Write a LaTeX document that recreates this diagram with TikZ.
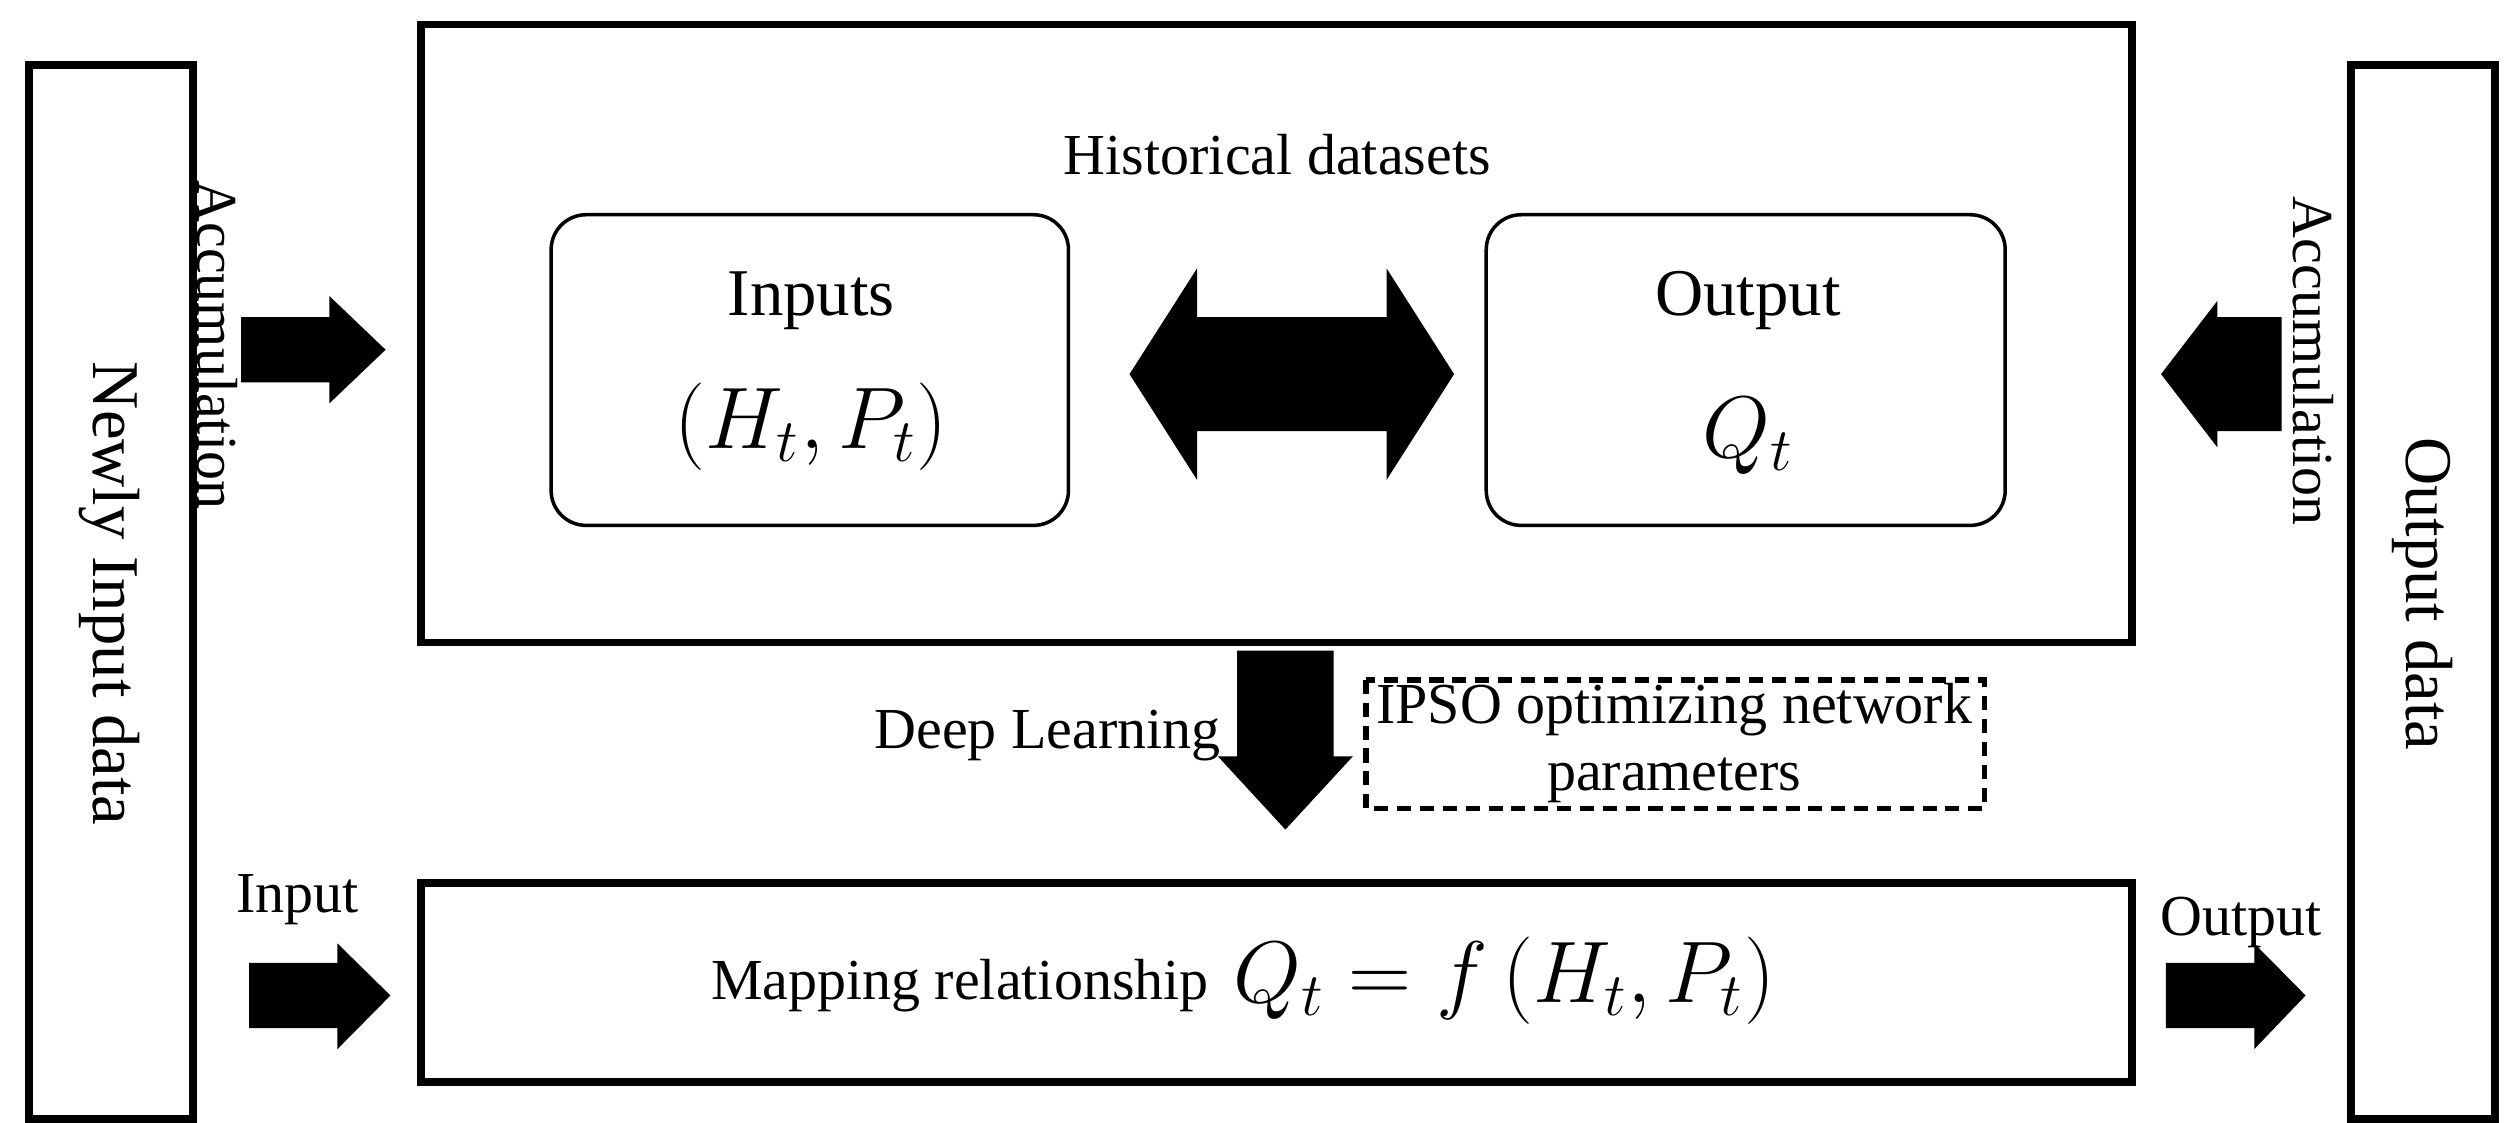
\documentclass[tikz,border=0pt]{standalone}
\usepackage{fontspec}
\setmainfont{Liberation Serif}
\usepackage{amsmath}
\begin{document}
\begin{tikzpicture}[
  box/.style={draw,line width=2.2pt,inner sep=0},
  rbox/.style={draw,line width=1pt,rounded corners=0.35cm},
  lbl/.style={font=\fontsize{16.5}{19}\selectfont},
  big/.style={font=\fontsize{19}{22}\selectfont},
  mth/.style={font=\fontsize{25}{28}\selectfont},
  arr/.style={fill=black}]
\useasboundingbox (0,0) rectangle (25.18,-11.22);
\begin{scope}[x=0.01607cm,y=-0.01626cm]
% outer boxes
\draw[box] (18,40) rectangle (120,688);
\node[big,rotate=-90] (nid) at (68,365) {Newly Input data};
\draw[box] (1463,40) rectangle (1553,688);
\node[big,rotate=-90] (od) at (1508,365) {Output data};
\draw[box] (262,15) rectangle (1327,395);
\node[lbl] (hist) at (795,95) {Historical datasets};
\draw[rbox] (343,132) rectangle (665,323);
\node[big] (inp) at (505,185) {Inputs};
\node[mth] at (505,262) {$(H_t,P_t)$};
\draw[rbox] (925,132) rectangle (1248,323);
\node[big] (outp) at (1088,185) {Output};
\node[mth] at (1088,268) {$Q_t$};
% double arrow
\fill[arr] (703,230) -- (745,165) -- (745,195) -- (863,195) -- (863,165) -- (905,230) -- (863,295) -- (863,265) -- (745,265) -- (745,295) -- cycle;
% accumulation arrows
\fill[arr] (150,195) -- (205,195) -- (205,182) -- (240,215) -- (205,248) -- (205,235) -- (150,235) -- cycle;
\node[lbl,rotate=-90] at (135,212) {Accumulation};
\fill[arr] (1420,195) -- (1380,195) -- (1380,185) -- (1345,230) -- (1380,275) -- (1380,265) -- (1420,265) -- cycle;
\node[lbl,rotate=-90] at (1440,222) {Accumulation};
% down arrow
\fill[arr] (770,400) -- (830,400) -- (830,465) -- (842,465) -- (800,510) -- (758,465) -- (770,465) -- cycle;
\node[lbl] at (652,452) {Deep Learning};
\draw[line width=1.6pt,dash pattern=on 4pt off 2.5pt] (850,418) rectangle (1235,497);
\node[lbl,align=center] at (1042,457) {IPSO optimizing network\\parameters};
% bottom box
\draw[box] (262,543) rectangle (1327,665);
\node[lbl,anchor=east] at (760,606) {Mapping relationship};
\node[mth,anchor=west] at (760,603) {$Q_t = f\,(H_t,P_t)$};
\fill[arr] (155,592) -- (210,592) -- (210,580) -- (243,612) -- (210,645) -- (210,632) -- (155,632) -- cycle;
\node[lbl] at (185,553) {Input};
\fill[arr] (1348,592) -- (1403,592) -- (1403,580) -- (1435,612) -- (1403,645) -- (1403,632) -- (1348,632) -- cycle;
\node[lbl] at (1395,567) {Output};
\end{scope}
\end{tikzpicture}
\end{document}
